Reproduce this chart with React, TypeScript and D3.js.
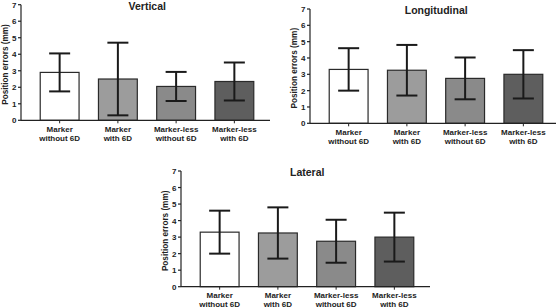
import React from "react";
import * as d3 from "d3";

const categories = ["Marker|without 6D", "Marker|with 6D", "Marker-less|without 6D", "Marker-less|with 6D"];
const barColors = ["#ffffff", "#9c9c9c", "#8a8a8a", "#5e5e5e"];
const yTicks = [0, 1, 2, 3, 4, 5, 6, 7];

const verticalMean = [2.9, 2.5, 2.05, 2.35];
const verticalSd = [1.15, 2.2, 0.88, 1.15];
const longitudinalMean = [3.3, 3.25, 2.75, 3.0];
const longitudinalSd = [1.3, 1.55, 1.28, 1.48];
const lateralMean = [3.3, 3.25, 2.75, 3.0];
const lateralSd = [1.3, 1.55, 1.3, 1.48];

const font = "'Liberation Sans', Arial, sans-serif";

const Panel = ({ title, means, sds, ax, y0, y7, axisLen }) => {
  const x = d3.scaleBand().domain(categories).range([ax, ax + 252]).paddingInner(0.333).paddingOuter(0.33);
  const y = d3.scaleLinear().domain([0, 7]).range([y0, y7]);
  const bw = x.bandwidth();
  const cap = 10.5;

  return (
    <g fontFamily={font} fontWeight="bold" fill="#222">
      <text x={x(categories[0]) + (252 - 38) / 2} y={y7 + 5} textAnchor="middle" fontSize={10.5}>
        {title}
      </text>
      <text
        transform={`translate(${ax - 13.5},${(y0 + y7) / 2 + 2}) rotate(-90)`}
        textAnchor="middle"
        fontSize={8.2}
      >
        Position errors (mm)
      </text>
      {yTicks.map((t) => (
        <g key={t}>
          <line x1={ax - 3} x2={ax} y1={y(t)} y2={y(t)} stroke="#222" strokeWidth={1.2} />
          <text x={ax - 4.5} y={y(t) + 3} textAnchor="end" fontSize={8}>
            {t}
          </text>
        </g>
      ))}
      {categories.map((c, i) => {
        const cx = x(c) + bw / 2;
        const [l1, l2] = c.split("|");
        return (
          <g key={c}>
            <rect
              x={x(c)}
              y={y(means[i])}
              width={bw}
              height={y0 - y(means[i])}
              fill={barColors[i]}
              stroke="#2a2a2a"
              strokeWidth={1.2}
            />
            <line x1={cx} x2={cx} y1={y(means[i] - sds[i])} y2={y(means[i] + sds[i])} stroke="#1a1a1a" strokeWidth={2} />
            <line x1={cx - cap} x2={cx + cap} y1={y(means[i] + sds[i])} y2={y(means[i] + sds[i])} stroke="#1a1a1a" strokeWidth={2} />
            <line x1={cx - cap} x2={cx + cap} y1={y(means[i] - sds[i])} y2={y(means[i] - sds[i])} stroke="#1a1a1a" strokeWidth={2} />
            <line x1={cx} x2={cx} y1={y0} y2={y0 + 3} stroke="#222" strokeWidth={1} />
            <text x={cx} y={y0 + 11.5} textAnchor="middle" fontSize={8}>
              {l1}
            </text>
            <text x={cx} y={y0 + 20.5} textAnchor="middle" fontSize={8}>
              {l2}
            </text>
          </g>
        );
      })}
      <line x1={ax} x2={ax} y1={y7} y2={y0} stroke="#222" strokeWidth={1.2} />
      <line x1={ax} x2={ax + axisLen} y1={y0} y2={y0} stroke="#222" strokeWidth={1.2} />
    </g>
  );
};

export default function App() {
  return (
    <svg width={556} height={308} style={{ position: "absolute", left: 0, top: 0, background: "#fff" }}>
      <Panel title="Vertical" means={verticalMean} sds={verticalSd} ax={21} y0={120.3} y7={4.7} axisLen={249} />
      <Panel title="Longitudinal" means={longitudinalMean} sds={longitudinalSd} ax={310} y0={123.3} y7={9} axisLen={246} />
      <Panel title="Lateral" means={lateralMean} sds={lateralSd} ax={181} y0={286.7} y7={171} axisLen={249} />
    </svg>
  );
}
